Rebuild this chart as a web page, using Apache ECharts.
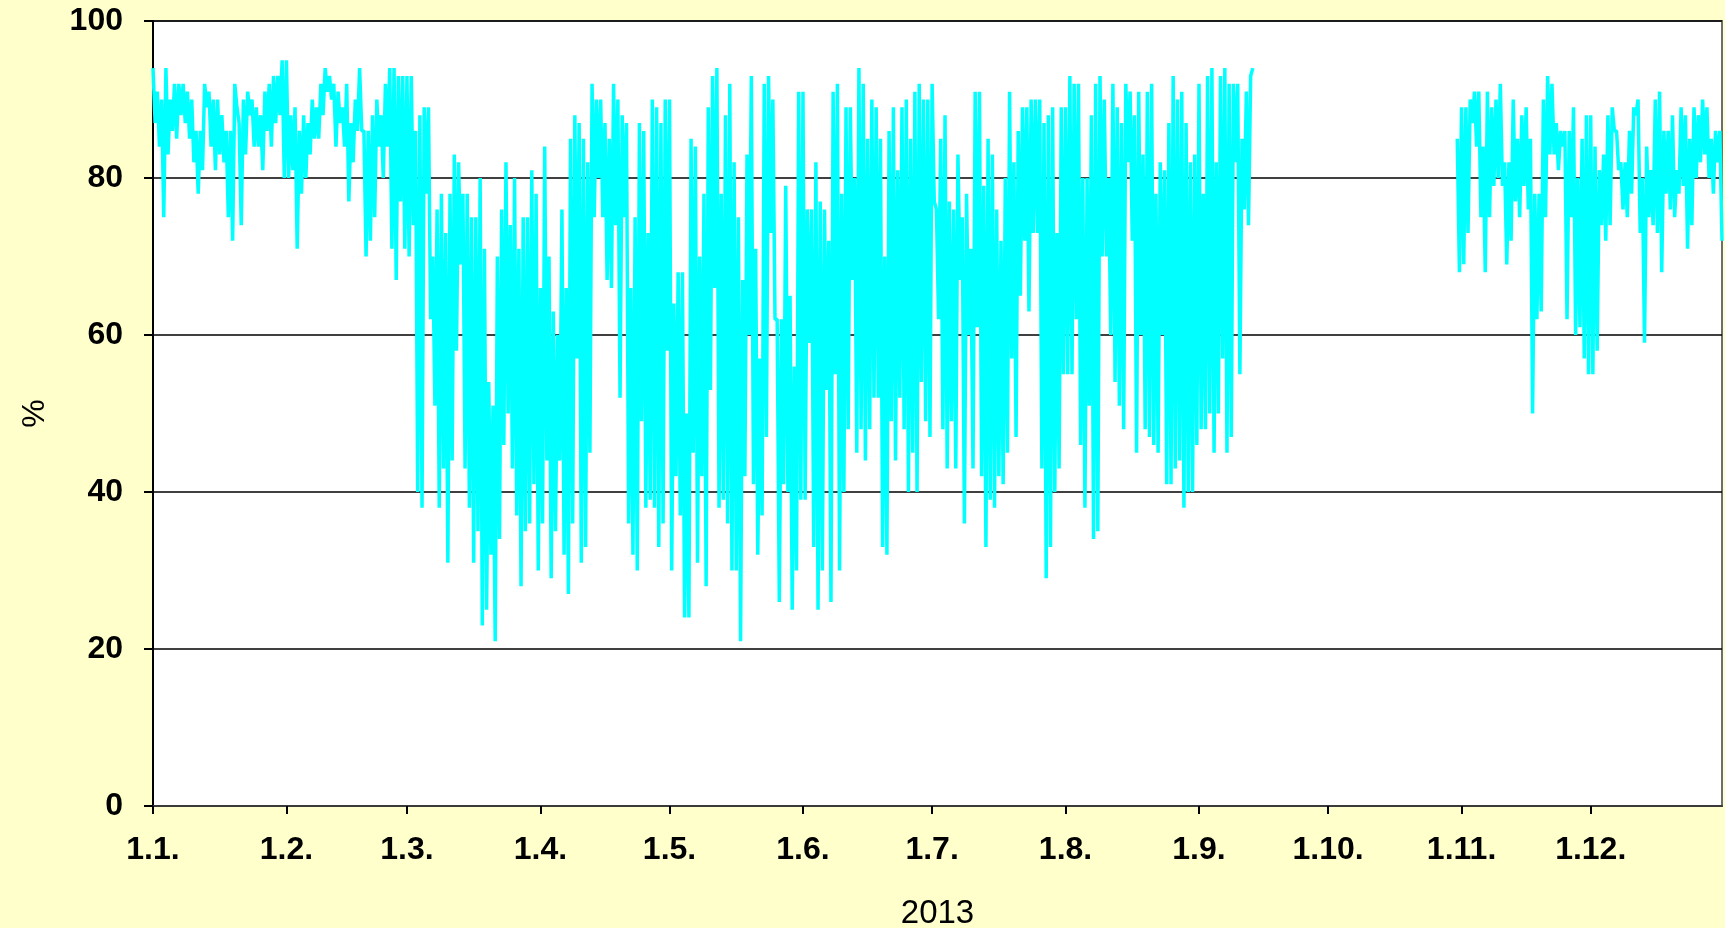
<!DOCTYPE html>
<html>
<head>
<meta charset="utf-8">
<script src="https://cdn.jsdelivr.net/npm/echarts@6/dist/echarts.min.js"></script>
<style>
  html, body { margin: 0; padding: 0; background: #FFFFCC; }
  #chart { width: 1725px; height: 928px; }
</style>
</head>
<body>
<div id="chart"></div>
<script>
// Relative air humidity 2013, two readings per day (morning, afternoon)
const yearName = '2013';
const monthLengths = [31, 28, 31, 30, 31, 30, 31, 31, 30, 31, 30, 31];
const monthTickLabels = ['1.1.', '1.2.', '1.3.', '1.4.', '1.5.', '1.6.', '1.7.', '1.8.', '1.9.', '1.10.', '1.11.', '1.12.'];
const readingTimes = ['7:00', '14:00'];
const yTicks = [0, 20, 40, 60, 80, 100];

const jan = [94,87, 91,84, 90,75, 94,83, 90,86, 92,85, 92,88, 92,87, 91,85, 90,82,
             86,78, 86,81, 92,89, 91,84, 90,81, 90,83, 88,82, 86,75, 86,72, 92,89,
             87,74, 90,83, 91,88, 90,84, 89,84, 88,81, 91,86, 92,84, 93,87, 93,88, 95,80];
const feb = [95,80, 88,81, 89,71, 86,78, 88,80, 87,83, 90,85, 89,85, 92,88, 94,91,
             93,90, 92,84, 91,87, 89,84, 92,77, 87,82, 90,86, 94,86, 86,70, 86,72,
             88,75, 90,84, 88,80, 92,84, 94,71, 94,67, 93,77, 93,71];
const mar = [93,70, 93,74, 86,40, 88,38, 89,78, 89,62, 70,51, 76,38, 78,43, 73,31,
             78,44, 83,58, 82,69, 78,43, 78,38, 75,31, 75,35, 80,23, 71,25, 54,32,
             51,21, 70,34, 76,46, 82,50, 74,43, 80,37, 71,28, 75,35, 75,36, 81,41, 78,30];
const apr = [66,36, 84,44, 70,29, 63,35, 60,44, 76,32, 66,27, 85,36, 88,57, 87,31,
             85,33, 82,45, 92,75, 90,80, 90,75, 87,67, 85,66, 92,74, 90,52, 88,75,
             87,36, 66,32, 75,30, 87,49, 86,38, 73,39, 90,38, 89,33, 87,36, 90,58];
const may = [90,30, 64,42, 68,37, 68,24, 50,24, 85,45, 84,31, 70,42, 78,28, 89,53,
             93,66, 94,38, 78,39, 88,36, 92,30, 82,30, 75,21, 67,42, 83,60, 93,41,
             71,32, 57,37, 92,47, 93,73, 90,62, 62,26, 62,41, 79,40, 65,25, 56,30, 91,39];
const jun = [91,39, 76,59, 76,33, 82,25, 77,30, 76,53, 72,26, 91,55, 92,30, 78,40,
             89,48, 89,67, 80,45, 94,48, 92,44, 85,48, 90,52, 89,52, 85,33, 70,32,
             86,49, 89,44, 81,52, 89,48, 90,40, 85,45, 91,40, 92,54, 90,49, 90,47];
const jul = [92,77, 76,62, 85,48, 88,43, 77,49, 76,43, 83,67, 75,36, 78,60, 71,43,
             91,61, 91,42, 79,33, 85,39, 83,38, 76,42, 72,41, 80,45, 91,57, 82,47,
             86,65, 89,72, 89,63, 90,73, 90,73, 90,43, 87,29, 88,33, 89,40, 73,43, 89,55];
const aug = [89,55, 93,55, 92,62, 92,46, 80,38, 80,51, 88,34, 92,35, 93,70, 90,70,
             80,60, 92,54, 89,51, 87,48, 92,82, 91,72, 88,45, 91,60, 83,48, 91,47,
             92,46, 78,45, 82,60, 81,41, 87,41, 93,43, 90,44, 91,38, 87,40, 82,40, 83,46];
const sep = [92,48, 78,48, 93,50, 94,45, 82,50, 93,57, 94,45, 92,47, 92,82, 92,55,
             85,76, 91,74, 93,94,
             null,null, null,null, null,null, null,null, null,null, null,null, null,null,
             null,null, null,null, null,null, null,null, null,null, null,null, null,null,
             null,null, null,null, null,null];
const oct = [null,null, null,null, null,null, null,null, null,null, null,null, null,null, null,null, null,null, null,null,
             null,null, null,null, null,null, null,null, null,null, null,null, null,null, null,null, null,null, null,null,
             null,null, null,null, null,null, null,null, null,null, null,null, null,null, null,null, null,null, null,null,
             85,68];
const nov = [89,69, 89,73, 90,87, 91,84, 91,75, 84,68, 91,75, 89,79, 90,80, 92,79,
             82,69, 82,72, 90,77, 85,75, 88,79, 89,76, 85,50, 78,62, 78,63, 90,75,
             93,83, 92,83, 87,81, 86,84, 86,62, 86,75, 89,60, 80,61, 85,57, 88,55];
const dec = [88,55, 84,58, 81,74, 83,72, 88,74, 89,86, 86,81, 82,76, 82,75, 86,78,
             89,88, 90,73, 80,59, 84,75, 81,74, 90,73, 91,68, 86,78, 86,76, 88,75,
             81,78, 89,79, 88,71, 85,74, 89,80, 88,82, 90,83, 89,80, 85,78, 86,82, 86,72];

const humidity = [].concat(jan, feb, mar, apr, may, jun, jul, aug, sep, oct, nov, dec);

// one category per reading; month starts carry the axis labels
const categories = [];
const monthStartLabel = {};
monthLengths.forEach((len, m) => {
  for (let d = 1; d <= len; d++) {
    readingTimes.forEach((t, r) => {
      if (d === 1 && r === 0) monthStartLabel[categories.length] = monthTickLabels[m];
      categories.push(d + '.' + (m + 1) + '. ' + t);
    });
  }
});
const isMonthStart = (idx) => monthStartLabel[idx] !== undefined;

const chart = echarts.init(document.getElementById('chart'), null, { renderer: 'canvas' });
chart.setOption({
  backgroundColor: '#FFFFCC',
  animation: false,
  grid: {
    left: 153, right: 3, top: 21, bottom: 122,
    outerBoundsMode: 'none',
    containLabel: false,
    show: true, backgroundColor: '#FFFFFF', borderColor: '#6e6e6e', borderWidth: 2
  },
  xAxis: {
    type: 'category',
    data: categories,
    boundaryGap: false,
    name: yearName,
    nameLocation: 'middle',
    nameGap: 91,
    nameTextStyle: { fontFamily: 'Liberation Sans', fontSize: 33, color: '#000' },
    axisLine: { show: true, lineStyle: { color: '#3a3a3a', width: 2 } },
    axisTick: { show: true, inside: false, length: 8, interval: isMonthStart, lineStyle: { color: '#000', width: 2 } },
    axisLabel: {
      interval: isMonthStart,
      formatter: (v, idx) => monthStartLabel[idx] || '',
      margin: 28,
      fontFamily: 'Liberation Sans', fontWeight: 'bold', fontSize: 32, color: '#000'
    },
    splitLine: { show: false }
  },
  yAxis: {
    type: 'value',
    min: yTicks[0], max: yTicks[yTicks.length - 1], interval: 20,
    name: '%',
    nameLocation: 'middle',
    nameGap: 102,
    nameTextStyle: { fontFamily: 'Liberation Sans', fontSize: 32, color: '#000' },
    axisLine: { show: true, lineStyle: { color: '#000', width: 2 } },
    axisTick: { show: true, inside: false, length: 9, lineStyle: { color: '#000', width: 2 } },
    axisLabel: { margin: 30, fontFamily: 'Liberation Sans', fontWeight: 'bold', fontSize: 32, color: '#000' },
    splitLine: { show: true, lineStyle: { color: '#000', width: 1.5 } }
  },
  series: [{
    type: 'line',
    data: humidity,
    showSymbol: false,
    connectNulls: false,
    lineStyle: { color: '#00FFFF', width: 3.5 },
    itemStyle: { color: '#00FFFF' }
  }]
});
</script>
</body>
</html>
